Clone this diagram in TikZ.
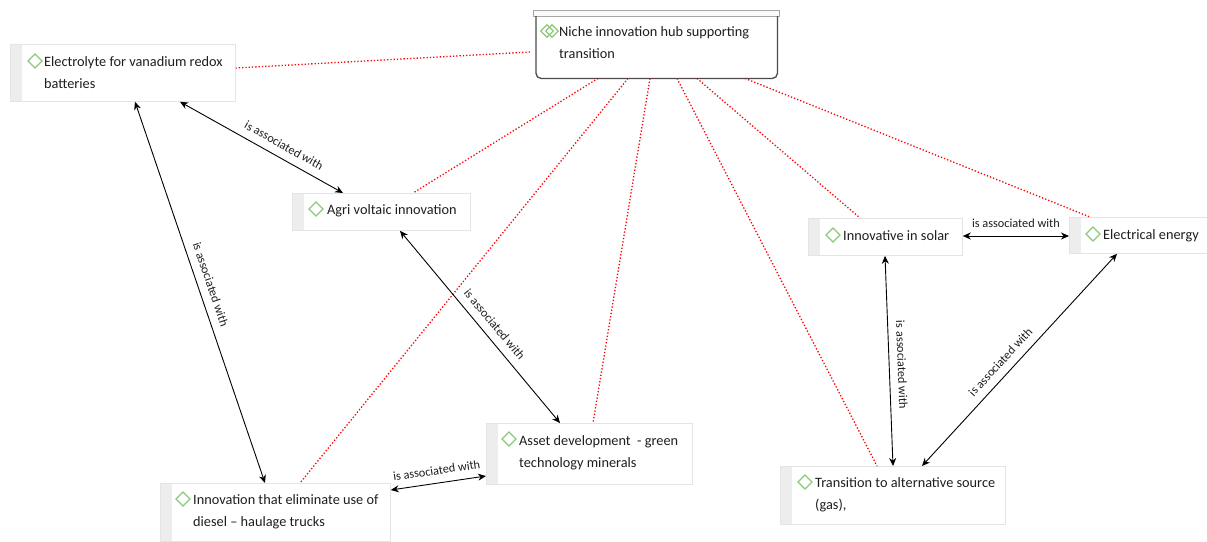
\documentclass[tikz,border=0pt]{standalone}
\usepackage{fontspec}
\setmainfont{Carlito}
\usetikzlibrary{arrows.meta,shapes.geometric}
\definecolor{iconGreen}{HTML}{8DC97B}
\definecolor{stripGray}{HTML}{EDEDED}
\definecolor{boxEdge}{HTML}{E4E4E4}
\definecolor{hubEdge}{HTML}{4A4A4A}
\definecolor{inkText}{HTML}{1E1E1E}
\begin{document}
\begin{tikzpicture}[x=1pt,y=-1pt,
  concept/.style={draw=boxEdge, fill=white, line width=0.8pt, anchor=north west,
    inner sep=0pt, path picture={\fill[stripGray] (path picture bounding box.north west)
      rectangle ([xshift=12pt]path picture bounding box.south west);}},
  ctext/.style={anchor=base west, inner sep=0pt, align=left, text=inkText,
    font=\fontsize{14.3}{22}\selectfont},
  icon/.style={diamond, draw=iconGreen, line width=1.2pt, minimum size=14.5pt, inner sep=0pt},
  assoc/.style={<->, >={Stealth[length=8pt,width=7pt]}, line width=0.9pt, black},
  link/.style={red, dotted, line width=1.3pt},
  lbl/.style={sloped, above=8pt, inner sep=0pt, text=inkText, font=\fontsize{12.3}{13}\selectfont}]
\useasboundingbox (0,0) rectangle (1207,541);
\fill[white] (0,0) rectangle (1207,541);

% hub: title bar and box with rounded lower corners
\node[draw=gray!70, fill=gray!4, line width=0.8pt, anchor=north west, inner sep=0pt,
  minimum width=246pt, minimum height=6pt] (hubbar) at (533,10) {};
\node[anchor=north west, inner sep=0pt, minimum width=241pt, minimum height=62pt] (hub) at (536,16) {};
\draw[hubEdge, line width=1.3pt, rounded corners=5pt]
  (hub.north west) -- (hub.south west) -- (hub.south east) -- (hub.north east);
% multi-line texts: the base anchor sits on the last line
\node[ctext] (hubt) at (559,58) {Niche innovation hub supporting\\transition};
\node[icon, minimum size=13pt] (hubi1) at (547,31) {};
\node[icon, minimum size=13pt] (hubi2) at (552,31) {};

% concept boxes
\node[concept, minimum width=225pt, minimum height=57pt] (el) at (10,44) {};
\node[ctext] (elt) at (44,88) {Electrolyte for vanadium redox\\batteries};
\node[icon] (eli) at (35,61) {};

\node[concept, minimum width=178pt, minimum height=37pt] (ag) at (292,193) {};
\node[ctext] (agt) at (327,214) {Agri voltaic innovation};
\node[icon] (agi) at (316,209) {};

\node[concept, minimum width=230pt, minimum height=58pt] (inn) at (160,483) {};
\node[ctext] (innt) at (193,526) {Innovation that eliminate use of\\diesel -- haulage trucks};
\node[icon] (inni) at (183,499) {};

\node[concept, minimum width=206pt, minimum height=61pt] (as) at (486,423) {};
\node[ctext] (ast) at (519,467) {Asset development\ \ - green\\technology minerals};
\node[icon] (asi) at (509,439) {};

\node[concept, minimum width=225pt, minimum height=58pt] (tr) at (780,466) {};
\node[ctext] (trt) at (815,509) {Transition to alternative source\\(gas),};
\node[icon] (tri) at (805,482) {};

\node[concept, minimum width=154pt, minimum height=37pt] (so) at (808,218) {};
\node[ctext] (sot) at (843,240) {Innovative in solar};
\node[icon] (soi) at (833,235) {};

\node[concept, minimum width=140pt, minimum height=36pt] (ee) at (1069,217) {};
\node[ctext] (eet) at (1103,239) {Electrical energy};
\node[icon] (eei) at (1093,234) {};

% dotted links from the hub
\draw[link] ([xshift=-6pt,yshift=-36pt]hub.north west) -- ([yshift=-24pt]el.north east);
\draw[link] ([xshift=62pt]hub.south west) -- ([xshift=121pt]ag.north west);
\draw[link] ([xshift=92pt]hub.south west) -- ([xshift=140pt]inn.north west);
\draw[link] ([xshift=114pt]hub.south west) -- ([xshift=107pt]as.north west);
\draw[link] ([xshift=141pt]hub.south west) -- ([xshift=97pt]tr.north west);
\draw[link] ([xshift=161pt]hub.south west) -- ([xshift=52pt]so.north west);
\draw[link] ([xshift=209pt]hub.south west) -- ([xshift=21pt]ee.north west);

% associations
\draw[assoc] ([xshift=170pt]el.south west) -- node[lbl, pos=0.6] {is associated with} ([xshift=51pt]ag.north west);
\draw[assoc] ([xshift=125pt]el.south west) -- node[lbl, pos=0.49] {is associated with} ([xshift=105pt]inn.north west);
\draw[assoc] ([xshift=108pt]ag.south west) -- node[lbl, pos=0.53] {is associated with} ([xshift=74pt]as.north west);
\draw[assoc] ([yshift=-7pt]inn.north east) -- node[lbl, pos=0.5] {is associated with} ([yshift=-53pt]as.north west);
\draw[assoc] ([yshift=-18pt]so.north east) -- node[lbl, pos=0.5] {is associated with} ([yshift=-19pt]ee.north west);
\draw[assoc] ([xshift=77pt]so.south west) -- node[lbl, pos=0.52] {is associated with} ([xshift=113pt]tr.north west);
\draw[assoc] ([xshift=142pt]tr.north west) -- node[lbl, pos=0.45] {is associated with} ([xshift=48pt]ee.south west);
\end{tikzpicture}
\end{document}
